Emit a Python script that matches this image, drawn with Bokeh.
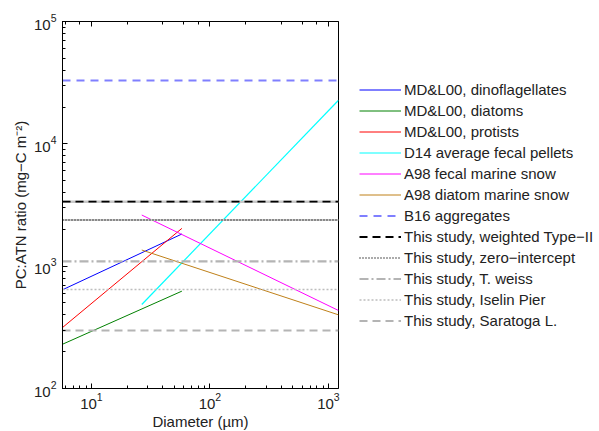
from bokeh.plotting import figure
from bokeh.models import Range1d, LogAxis, Legend, LegendItem
from bokeh.embed import file_html
from bokeh.resources import INLINE

FONT = "Liberation Sans"

# ---- data ----
x_limits = [5.7, 1216]
y_limits = [100, 100000]

mdl_dino_d = [5.7, 58]
mdl_dino_pc = [641, 1832]
mdl_diatom_d = [5.7, 58]
mdl_diatom_pc = [230, 625]
mdl_protist_d = [5.7, 58]
mdl_protist_pc = [315, 2037]
d14_d = [26.6, 1216]
d14_pc = [486, 22700]
a98_fecal_d = [26.6, 1216]
a98_fecal_pc = [2618, 434]
a98_diatom_d = [26.6, 1216]
a98_diatom_pc = [1355, 400]

b16_pc = 33000
weighted_pc = 3365
zero_int_pc = 2384
tweiss_pc = 1093
iselin_pc = 645
saratoga_pc = 298

labels = [
    "MD&L00, dinoflagellates",
    "MD&L00, diatoms",
    "MD&L00, protists",
    "D14 average fecal pellets",
    "A98 fecal marine snow",
    "A98 diatom marine snow",
    "B16 aggregates",
    "This study, weighted Type\u2212II",
    "This study, zero\u2212intercept",
    "This study, T. weiss",
    "This study, Iselin Pier",
    "This study, Saratoga L.",
]

p = figure(x_axis_type="log", y_axis_type="log",
           x_range=Range1d(*x_limits), y_range=Range1d(*y_limits),
           frame_width=276, frame_height=367,
           output_backend="svg", toolbar_location=None,
           min_border_left=62, min_border_top=21, min_border_right=0,
           min_border_bottom=36)
p.grid.visible = False
p.outline_line_color = "black"
p.outline_line_width = 1
p.background_fill_color = "white"
p.border_fill_color = "white"

full_x = x_limits

items = []
# sloped lines
r = p.line(mdl_dino_d, mdl_dino_pc, line_color="#0000ff", line_width=1)
items.append(LegendItem(label=labels[0], renderers=[r]))
r = p.line(mdl_diatom_d, mdl_diatom_pc, line_color="#008000", line_width=1)
items.append(LegendItem(label=labels[1], renderers=[r]))
r = p.line(mdl_protist_d, mdl_protist_pc, line_color="#ff0000", line_width=1)
items.append(LegendItem(label=labels[2], renderers=[r]))
r = p.line(d14_d, d14_pc, line_color="#00ffff", line_width=1.2)
items.append(LegendItem(label=labels[3], renderers=[r]))
r = p.line(a98_fecal_d, a98_fecal_pc, line_color="#ff00ff", line_width=1)
items.append(LegendItem(label=labels[4], renderers=[r]))
r = p.line(a98_diatom_d, a98_diatom_pc, line_color="#bf8019", line_width=1)
items.append(LegendItem(label=labels[5], renderers=[r]))

# horizontal lines
r = p.line(full_x, [b16_pc, b16_pc], line_color="#0000ff", line_alpha=0.5,
           line_width=2, line_dash="8 6")
items.append(LegendItem(label=labels[6], renderers=[r]))

p.line(full_x, [weighted_pc, weighted_pc], line_color="#c8c8c8", line_width=2.5)
r = p.line(full_x, [weighted_pc, weighted_pc], line_color="black",
           line_width=1.8, line_dash="8 5")
items.append(LegendItem(label=labels[7], renderers=[r]))

p.line(full_x, [zero_int_pc, zero_int_pc], line_color="#c8c8c8", line_width=2)
r = p.line(full_x, [zero_int_pc, zero_int_pc], line_color="#222222",
           line_width=1.5, line_dash="1 2")
items.append(LegendItem(label=labels[8], renderers=[r]))

r = p.line(full_x, [tweiss_pc, tweiss_pc], line_color="#b4b4b4",
           line_width=2.2, line_dash="9 3 2 3")
items.append(LegendItem(label=labels[9], renderers=[r]))

r = p.line(full_x, [iselin_pc, iselin_pc], line_color="#bdbdbd",
           line_width=1.6, line_dash="2 2")
items.append(LegendItem(label=labels[10], renderers=[r]))

r = p.line(full_x, [saratoga_pc, saratoga_pc], line_color="#b4b4b4",
           line_width=2.2, line_dash="8 5")
items.append(LegendItem(label=labels[11], renderers=[r]))

legend = Legend(items=items, location="center_left",
                label_text_font=FONT, label_text_font_size="15px",
                label_text_color="#222222",
                glyph_width=42, glyph_height=21, label_height=21,
                spacing=0, padding=2, margin=21, label_standoff=3,
                border_line_color=None, background_fill_alpha=0)
p.add_layout(legend, "right")


def style_axis(ax, show_labels=True):
    ax.axis_line_color = "black"
    ax.major_tick_in = 5
    ax.major_tick_out = 0
    ax.minor_tick_in = 3
    ax.minor_tick_out = 0
    ax.major_tick_line_color = "black"
    ax.minor_tick_line_color = "black"
    ax.major_label_text_font = FONT
    if show_labels:
        ax.major_label_text_font_size = "15px"
        ax.major_label_text_color = "#222222"
    else:
        ax.major_label_text_font_size = "1px"
        ax.major_label_text_color = None
        ax.major_label_standoff = 0
    ax.axis_label_text_font = FONT
    ax.axis_label_text_font_size = "15px"
    ax.axis_label_text_font_style = "normal"
    ax.axis_label_text_color = "#222222"


style_axis(p.xaxis[0])
style_axis(p.yaxis[0])
p.xaxis[0].axis_label = "Diameter (\u00b5m)"
p.yaxis[0].axis_label = "PC:ATN ratio (mg\u2212C m\u207b\u00b2)"
p.xaxis[0].major_label_standoff = 4
p.xaxis[0].axis_label_standoff = 1
p.yaxis[0].major_label_standoff = 6
p.yaxis[0].axis_label_standoff = 2

top_ax = LogAxis()
style_axis(top_ax, show_labels=False)
p.add_layout(top_ax, "above")
right_ax = LogAxis()
style_axis(right_ax, show_labels=False)
p.add_layout(right_ax, "right")

open("out.html", "w").write(file_html(p, INLINE))
